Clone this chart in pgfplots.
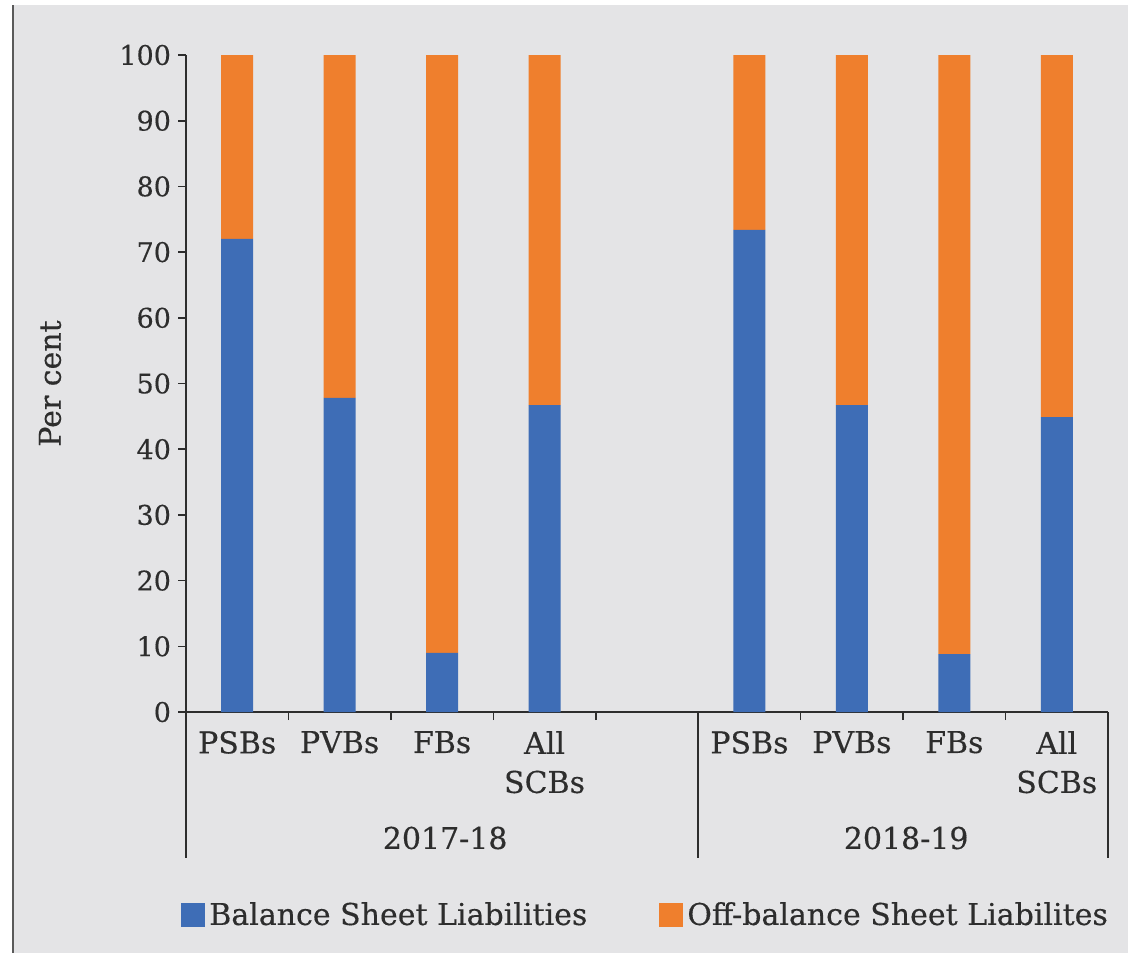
\documentclass[border=0pt]{standalone}
\usepackage{pgfplots}
\pgfplotsset{compat=1.18}
\usepackage{fontspec}
\setmainfont{DejaVu Serif}
\newfontfamily\chartfont{DejaVu Serif}[FakeBold=0.35]
\definecolor{bsblue}{RGB}{62,109,182}
\definecolor{obsorange}{RGB}{239,127,45}
\definecolor{panel}{RGB}{228,228,230}
\definecolor{ink}{RGB}{45,45,45}
\definecolor{frameline}{RGB}{90,90,90}

\begin{document}
\begin{tikzpicture}[x=1pt,y=1pt]
% page and grey panel
\fill[white] (0,0) rectangle (564,-476.5);
\fill[panel] (6.5,-2.5) rectangle (564,-476.5);
\draw[line width=1.4pt, frameline] (6.5,-2.5) -- (6.5,-476.5);

\begin{axis}[
  at={(93pt,-356pt)}, anchor=south west,
  scale only axis, width=461pt, height=328.5pt,
  xmin=0, xmax=9, ymin=0, ymax=100,
  clip=false,
  ybar stacked, bar width=16pt,
  axis x line*=bottom, axis y line*=left,
  axis line style={ink, line width=0.8pt},
  tick align=outside,
  major tick length=4pt, minor tick length=4pt,
  tick style={ink, line width=0.8pt},
  xtick={0.5,1.5,2.5,3.5,5.5,6.5,7.5,8.5},
  xticklabels={PSBs,PVBs,FBs,All\\SCBs,PSBs,PVBs,FBs,All\\SCBs},
  major x tick style={draw=none},
  minor xtick={1,2,3,4,6,7,8},
  ytick={0,10,...,100},
  /pgf/number format/assume math mode=true,
  yticklabel style={font=\chartfont\fontsize{13.5}{16}\selectfont, text=ink},
  xticklabel style={align=center, yshift=-2pt, font=\chartfont\fontsize{15}{19.5}\selectfont, text=ink},
  ylabel={Per cent},
  every axis y label/.style={at={(axis description cs:-0.1475,0.5)}, rotate=90, anchor=center,
    font=\chartfont\fontsize{15}{16}\selectfont, text=ink},
  legend columns=2,
  legend style={draw=none, fill=none, at={(axis description cs:-0.012,-0.309)}, anchor=west,
    font=\chartfont\fontsize{15}{16}\selectfont, text=ink,
    /tikz/every even column/.append style={column sep=34pt}},
  legend image code/.code={\fill[#1] (0pt,-6pt) rectangle (12pt,6pt);},
]
% balance sheet share
\addplot[fill=bsblue, draw=none] coordinates {
  (0.5,72.0) (1.5,47.8) (2.5,9.0) (3.5,46.7)
  (5.5,73.4) (6.5,46.7) (7.5,8.8) (8.5,44.9)};
% off-balance sheet share (remainder to 100)
\addplot[fill=obsorange, draw=none] coordinates {
  (0.5,28.0) (1.5,52.2) (2.5,91.0) (3.5,53.3)
  (5.5,26.6) (6.5,53.3) (7.5,91.2) (8.5,55.1)};
\legend{Balance Sheet Liabilities, Off-balance Sheet Liabilites}

% group separators and year labels
\draw[ink, line width=0.8pt] (axis cs:0,0) -- ([yshift=-73pt]axis cs:0,0);
\draw[ink, line width=0.8pt] (axis cs:5,0) -- ([yshift=-73pt]axis cs:5,0);
\draw[ink, line width=0.8pt] (axis cs:9,0) -- ([yshift=-73pt]axis cs:9,0);
\node[text=ink, font=\chartfont\fontsize{15}{16}\selectfont] at ([yshift=-63pt]axis cs:2.53,0) {2017-18};
\node[text=ink, font=\chartfont\fontsize{15}{16}\selectfont] at ([yshift=-63pt]axis cs:7.03,0) {2018-19};
\end{axis}
\end{tikzpicture}
\end{document}
